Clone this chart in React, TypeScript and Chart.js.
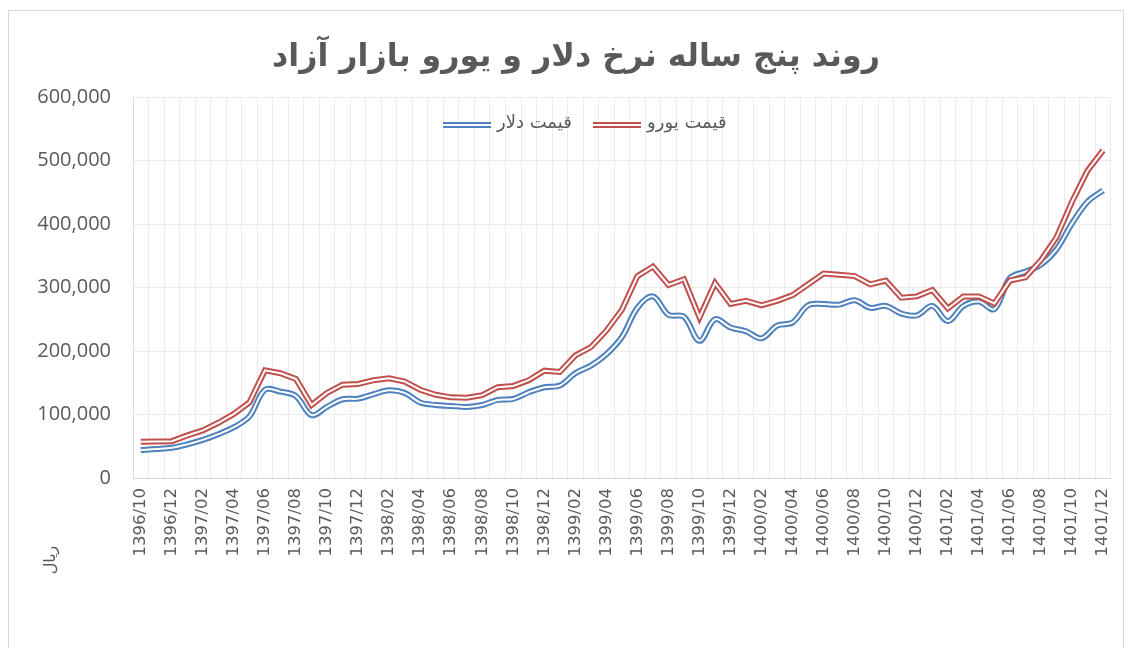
import React, { useEffect, useRef } from 'react';
import { Chart, registerables } from 'chart.js';

Chart.register(...registerables);

const TITLE = 'روند پنج ساله نرخ دلار و یورو بازار آزاد';
const UNIT = 'ریال';
const DOLLAR_LABEL = 'قیمت دلار';
const EURO_LABEL = 'قیمت یورو';

const months: string[] = [
  '1396/10', '1396/11', '1396/12',
  '1397/01', '1397/02', '1397/03', '1397/04', '1397/05', '1397/06', '1397/07', '1397/08', '1397/09', '1397/10', '1397/11', '1397/12',
  '1398/01', '1398/02', '1398/03', '1398/04', '1398/05', '1398/06', '1398/07', '1398/08', '1398/09', '1398/10', '1398/11', '1398/12',
  '1399/01', '1399/02', '1399/03', '1399/04', '1399/05', '1399/06', '1399/07', '1399/08', '1399/09', '1399/10', '1399/11', '1399/12',
  '1400/01', '1400/02', '1400/03', '1400/04', '1400/05', '1400/06', '1400/07', '1400/08', '1400/09', '1400/10', '1400/11', '1400/12',
  '1401/01', '1401/02', '1401/03', '1401/04', '1401/05', '1401/06', '1401/07', '1401/08', '1401/09', '1401/10', '1401/11', '1401/12',
];

const dollar: number[] = [
  44000, 45500, 47500,
  53000, 60000, 69000, 80000, 97000, 139000, 136000, 129000, 99000, 112000, 124000, 125000,
  132000, 138000, 134000, 119000, 115000, 113500, 112000, 115000, 123000, 124500, 135000, 143000,
  145500, 165000, 177000, 195000, 222000, 268000, 286000, 257000, 254000, 216000, 250000, 237000,
  231000, 220000, 240000, 245000, 272000, 274000, 273000, 280000, 268000, 271000, 259000, 256000,
  271000, 247000, 271000, 278000, 266000, 315000, 325000, 336000, 360000, 401000, 435000, 453000,
];

const euro: number[] = [
  57000, 57500, 58000,
  67000, 75000, 87000, 101000, 119000, 169500, 165000, 156000, 115000, 134000, 147000, 148000,
  154000, 157000, 152000, 139000, 131000, 127000, 126500, 130500, 143000, 145000, 154000, 169000,
  167000, 193000, 206000, 232000, 265000, 318000, 333000, 304000, 313000, 253000, 307000, 274000,
  279000, 272000, 279000, 288000, 305000, 322000, 320000, 318000, 305000, 311000, 284000, 286000,
  296000, 267000, 286000, 286000, 275000, 311000, 316000, 343000, 379000, 435000, 484000, 516000,
];

const yTicks: number[] = [0, 100000, 200000, 300000, 400000, 500000, 600000];

const BLUE = '#4F81BD';
const RED = '#C0504D';
const TEXT = '#595959';
const GRID = '#ebebeb';
const AXIS = '#d9d9d9';

function drawDouble(ctx: CanvasRenderingContext2D, x: number, y: number, w: number, color: string) {
  ctx.beginPath();
  ctx.moveTo(x, y);
  ctx.lineTo(x + w, y);
  ctx.strokeStyle = color;
  ctx.lineWidth = 6;
  ctx.stroke();
  ctx.beginPath();
  ctx.moveTo(x, y);
  ctx.lineTo(x + w, y);
  ctx.strokeStyle = '#ffffff';
  ctx.lineWidth = 2;
  ctx.stroke();
}

const decorPlugin = {
  id: 'decor',
  beforeDraw(chart: any) {
    const ctx: CanvasRenderingContext2D = chart.ctx;
    ctx.save();
    ctx.fillStyle = '#ffffff';
    ctx.fillRect(0, 0, chart.width, chart.height);
    ctx.strokeStyle = AXIS;
    ctx.lineWidth = 1;
    ctx.strokeRect(8.5, 10.5, 1115, 700);
    ctx.restore();
  },
  afterDraw(chart: any) {
    const ctx: CanvasRenderingContext2D = chart.ctx;
    ctx.save();
    // title
    ctx.fillStyle = TEXT;
    let size = 30;
    ctx.font = `bold ${size}px "DejaVu Sans"`;
    const w = ctx.measureText(TITLE).width;
    size = Math.max(22, Math.min(38, size * 608 / w));
    ctx.font = `bold ${size}px "DejaVu Sans"`;
    ctx.textAlign = 'center';
    ctx.textBaseline = 'middle';
    ctx.fillText(TITLE, 576, 58);

    // legend
    ctx.font = '18px "DejaVu Sans"';
    ctx.textBaseline = 'middle';
    ctx.textAlign = 'left';
    drawDouble(ctx, 443, 125, 48, BLUE);
    ctx.fillStyle = TEXT;
    ctx.fillText(DOLLAR_LABEL, 497, 123);
    drawDouble(ctx, 593, 125, 48, RED);
    ctx.fillStyle = TEXT;
    ctx.fillText(EURO_LABEL, 647, 123);

    // unit label
    ctx.translate(51, 560);
    ctx.rotate(-Math.PI / 2);
    ctx.font = '16px "DejaVu Sans"';
    ctx.textAlign = 'center';
    ctx.fillText(UNIT, 0, 0);
    ctx.restore();
  },
};

export default function App() {
  const ref = useRef<HTMLCanvasElement | null>(null);

  useEffect(() => {
    if (!ref.current) return;
    const chart = new Chart(ref.current, {
      type: 'line',
      data: {
        labels: months,
        datasets: [
          { label: EURO_LABEL, data: euro, borderColor: '#ffffff', borderWidth: 2, tension: 0, pointRadius: 0 },
          { label: EURO_LABEL, data: euro, borderColor: RED, borderWidth: 6, tension: 0, pointRadius: 0 },
          { label: DOLLAR_LABEL, data: dollar, borderColor: '#ffffff', borderWidth: 2, tension: 0.35, pointRadius: 0 },
          { label: DOLLAR_LABEL, data: dollar, borderColor: BLUE, borderWidth: 6, tension: 0.35, pointRadius: 0 },
        ],
      },
      options: {
        responsive: false,
        animation: false,
        devicePixelRatio: 1,
        layout: { padding: { top: 97, right: 18, bottom: 0, left: 0 } },
        plugins: {
          legend: { display: false },
          title: { display: false },
          tooltip: { enabled: false },
        },
        scales: {
          x: {
            type: 'category',
            offset: true,
            grid: { offset: true, color: GRID, drawTicks: false, lineWidth: 1 },
            border: { color: AXIS },
            ticks: {
              autoSkip: false,
              maxRotation: 90,
              minRotation: 90,
              padding: 10,
              color: TEXT,
              font: { family: 'DejaVu Sans', size: 16.5 },
              callback: (_v: any, i: number) => (i % 2 === 0 ? months[i] : ''),
            },
            afterFit: (s: any) => { s.height = 170; },
          },
          y: {
            min: yTicks[0],
            max: yTicks[yTicks.length - 1],
            grid: { color: GRID, drawTicks: false },
            border: { color: AXIS },
            ticks: {
              stepSize: 100000,
              padding: 22,
              color: TEXT,
              font: { family: 'Open Sans', size: 20 },
              callback: (v: any) => Number(v).toLocaleString('en-US'),
            },
            afterFit: (s: any) => { s.width = 133; },
          },
        },
      },
      plugins: [decorPlugin],
    } as any);
    return () => chart.destroy();
  }, []);

  return (
    <div style={{ position: 'fixed', left: 0, top: 0, width: 1133, height: 648, overflow: 'hidden', background: '#fff' }}>
      <canvas ref={ref} width={1133} height={648} style={{ display: 'block' }} />
    </div>
  );
}
